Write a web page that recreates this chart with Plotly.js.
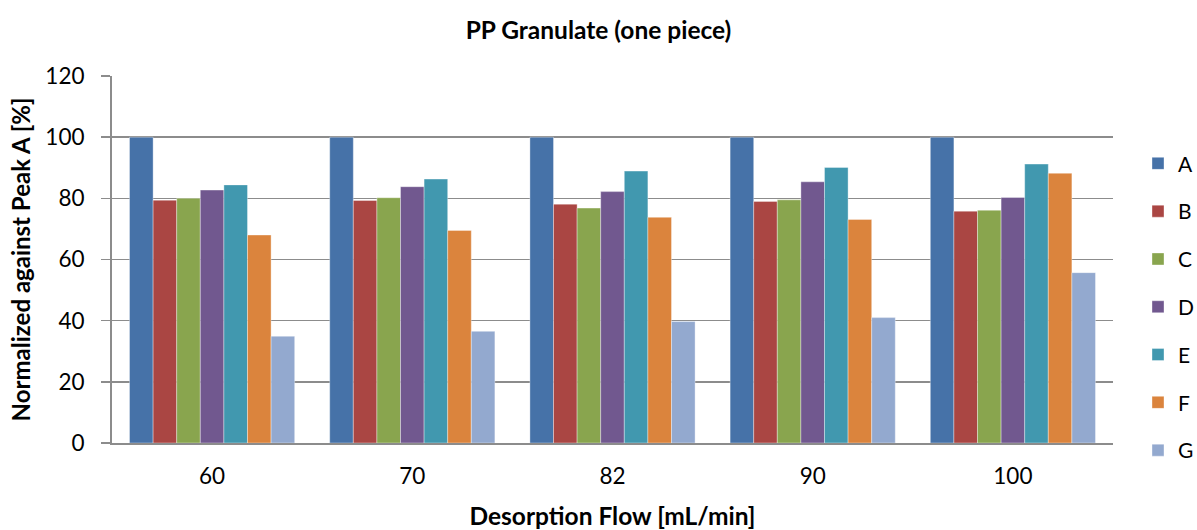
<!DOCTYPE html>
<html>
<head>
<meta charset="utf-8">
<script src="https://cdn.plot.ly/plotly-3.0.1.min.js"></script>
<style>html,body{margin:0;padding:0;background:#fff;}#chart{width:1197px;height:530px;}</style>
</head>
<body>
<div id="chart"></div>
<script>
const categories = ["60", "70", "82", "90", "100"];
const seriesNames = ["A", "B", "C", "D", "E", "F", "G"];
const A = [100, 100, 100, 100, 100];
const B = [79.4, 79.3, 78.1, 79.0, 75.8];
const C = [80.0, 80.2, 76.8, 79.5, 76.1];
const D = [82.7, 83.8, 82.2, 85.4, 80.3];
const E = [84.4, 86.3, 88.9, 90.1, 91.2];
const F = [68.0, 69.5, 73.8, 73.1, 88.2];
const G = [34.9, 36.5, 39.7, 41.0, 55.7];
const yTicks = [0, 20, 40, 60, 80, 100, 120];

const seriesValues = [A, B, C, D, E, F, G];
const colors = ["#4672A8", "#AA4643", "#89A54E", "#71588F", "#4198AF", "#DB843D", "#93A9CF"];
const FONT = "Lato, 'Open Sans', sans-serif";

const traces = seriesNames.map((n, i) => ({
  type: "bar",
  name: n,
  x: categories,
  y: seriesValues[i],
  legendgroup: n,
  marker: {color: colors[i], line: {color: "rgba(255,255,255,0.6)", width: 0.6}},
  hoverinfo: "x+y+name"
}));

const layout = {
  width: 1197, height: 530,
  margin: {l: 112, r: 84, t: 76, b: 87},
  paper_bgcolor: "#fff", plot_bgcolor: "#fff",
  font: {family: FONT, color: "#000", size: 22},
  title: {text: "<b>PP Granulate (one piece)</b>", x: 0.5, xanchor: "center", y: 0.943, yanchor: "middle", font: {family: FONT, size: 24.5, color: "#000"}},
  barmode: "group",
  bargap: 0.175,
  bargroupgap: 0,
  xaxis: {
    type: "category",
    tickfont: {family: FONT, size: 22.5, color: "#000"},
    ticklabelstandoff: 12,
    showline: true, linecolor: "#8c8c8c", linewidth: 2,
    ticks: "", showgrid: false,
    title: {text: "<b>Desorption Flow [mL/min]</b>", standoff: 26, font: {family: FONT, size: 24.5, color: "#000"}}
  },
  yaxis: {
    range: [0, 120],
    tickvals: yTicks,
    tickfont: {family: FONT, size: 22.5, color: "#000"},
    ticklabelstandoff: 12,
    showline: true, linecolor: "#8c8c8c", linewidth: 2,
    ticks: "outside", ticklen: 9, tickcolor: "#8c8c8c", tickwidth: 1.5,
    showgrid: true, gridcolor: "#8c8c8c", gridwidth: 1.5,
    zeroline: false,
    title: {text: "<b>Normalized against Peak A [%]</b>", standoff: 8, font: {family: FONT, size: 24, color: "#000"}}
  },
  legend: {
    xref: "container",
    x: 1138 / 1197, xanchor: "left", y: 0.37, yanchor: "middle",
    font: {family: FONT, size: 21, color: "#000"},
    tracegroupgap: 17.5,
    itemwidth: 30,
    bgcolor: "rgba(0,0,0,0)"
  },
  showlegend: true
};

Plotly.newPlot("chart", traces, layout, {displayModeBar: false, staticPlot: true});
</script>
</body>
</html>
